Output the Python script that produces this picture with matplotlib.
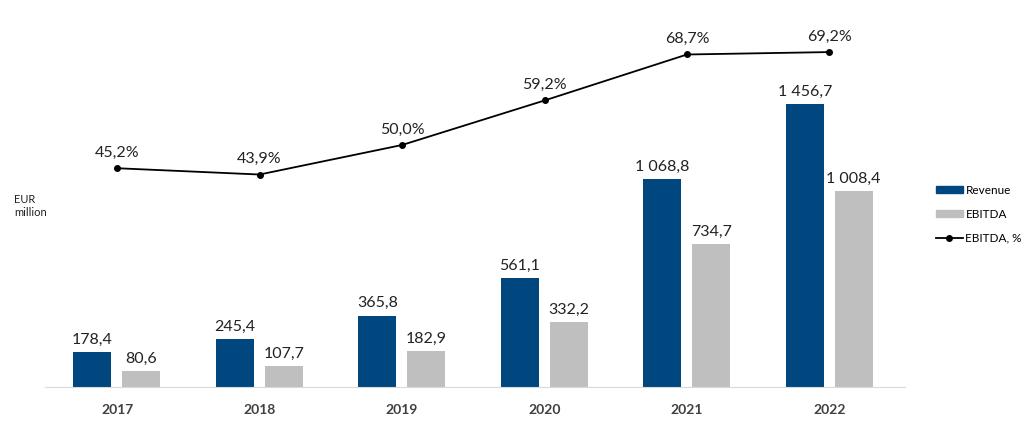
import matplotlib
matplotlib.use("Agg")
import matplotlib.pyplot as plt
from matplotlib.lines import Line2D
from matplotlib.patches import Patch
import numpy as np

plt.rcParams['font.family'] = ['Lato', 'DejaVu Sans']

years = ["2017", "2018", "2019", "2020", "2021", "2022"]
revenue = [178.4, 245.4, 365.8, 561.1, 1068.8, 1456.7]
ebitda = [80.6, 107.7, 182.9, 332.2, 734.7, 1008.4]
margin = [45.2, 43.9, 50.0, 59.2, 68.7, 69.2]

def fmt(v, dec=1):
    s = f"{v:,.{dec}f}"
    return s.replace(",", " ").replace(".", ",")

navy = "#00467F"
grey = "#BFBFBF"
txt = "#222222"

fig = plt.figure(figsize=(10.24, 4.47), dpi=100)
W, H = 1024, 447
left, right, bottom, top = 45, 905, 387, 20
ax = fig.add_axes([left / W, (H - bottom) / H, (right - left) / W, (bottom - top) / H])
x = np.arange(len(years))
bw = 0.267
ax.bar(x - 0.173, revenue, bw, color=navy, zorder=2)
ax.bar(x + 0.170, ebitda, bw, color=grey, zorder=2)
ax.set_xlim(-0.506, 5.53)
ax.set_ylim(0, (bottom - top) / 0.1943)
for xi, r, e in zip(x, revenue, ebitda):
    ax.annotate(fmt(r), (xi - 0.173, r), xytext=(0, 4), textcoords="offset points",
                ha="center", va="bottom", fontsize=11.5, color=txt)
    ax.annotate(fmt(e), (xi + 0.170, e), xytext=(0, 4), textcoords="offset points",
                ha="center", va="bottom", fontsize=11.5, color=txt)

for s in ["top", "right", "left"]:
    ax.spines[s].set_visible(False)
ax.spines["bottom"].set_color("#D9D9D9")
ax.set_yticks([])
ax.set_xticks(x)
ax.set_xticklabels(years, fontsize=10, fontweight="bold", color="#404040")
ax.tick_params(axis="x", length=0, pad=12)

ax2 = ax.twinx()
ax2.set_ylim(0, (bottom - top) / 4.84)
ax2.plot(x, margin, color="black", lw=1.3, marker="o", markersize=4, zorder=3)
for xi, m in zip(x, margin):
    ax2.annotate(fmt(m) + "%", (xi, m), xytext=(0, 6), textcoords="offset points",
                 ha="center", va="bottom", fontsize=11.5, color=txt)
ax2.axis("off")

fig.text(14 / W, 1 - 206 / H, "EUR\nmillion", fontsize=8, color=txt, va="center", ha="left",
         linespacing=1.3)

handles = [Patch(color=navy), Patch(color=grey),
           Line2D([0], [0], color="black", marker="o", markersize=4, lw=1.3)]
labels = ["Revenue", "EBITDA", "EBITDA, %"]
fig.legend(handles, labels, loc="center left", bbox_to_anchor=(930 / W, 1 - 214 / H),
           frameon=False, fontsize=8.5, handlelength=2.3, handleheight=0.6,
           labelspacing=1.1, handletextpad=0.2, borderpad=0)

fig.savefig("out.png", dpi=100)
